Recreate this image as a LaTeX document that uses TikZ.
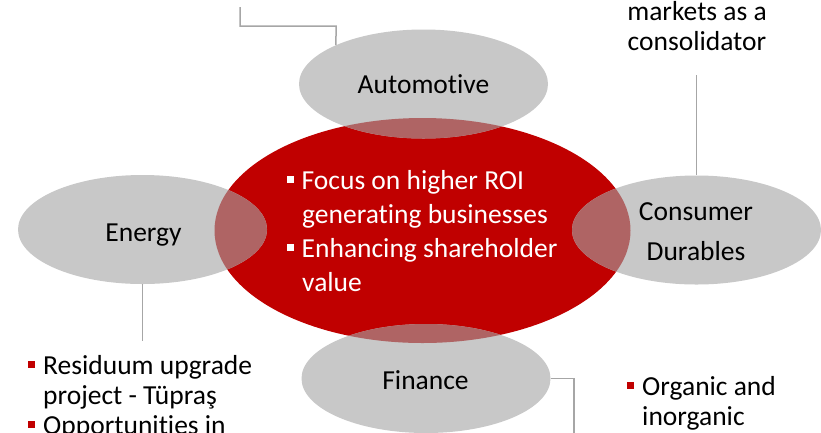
\documentclass[tikz,border=0pt]{standalone}
\usepackage{fontspec}
\setmainfont{Carlito}[RawFeature={-liga}]
\usetikzlibrary{shapes.geometric}
\definecolor{corered}{HTML}{C00000}
\definecolor{petal}{HTML}{C8C8C8}
\definecolor{overlap}{HTML}{AF6464}
\definecolor{connline}{HTML}{A6A6A6}
\newcommand{\sqbul}[1]{\makebox[15pt][l]{\textcolor{#1}{\rule[6.5pt]{7pt}{7pt}}}}
\tikzset{
  petalshape/.style={ellipse, fill=petal, minimum width=249pt, minimum height=109pt, inner sep=0pt},
  coreshape/.style={ellipse, fill=corered, minimum width=416pt, minimum height=225pt, inner sep=0pt},
  conn/.style={draw=connline, line width=1.5pt},
  lab/.style={inner sep=0pt, font=\fontsize{27.5}{33}\selectfont, text=black},
  wlab/.style={lab, text=white},
}
\begin{document}
\begin{tikzpicture}[x=1pt,y=-1pt]
\useasboundingbox (0,0) rectangle (821,432);
\clip (0,0) rectangle (821,432);
\fill[white] (0,0) rectangle (821,432);
% shapes
\node[coreshape] (core) at (422.5,230.5) {};
\node[petalshape] (auto) at (423.5,84) {};
\node[petalshape] (energy) at (142.5,229.5) {};
\node[petalshape] (cons) at (696.5,230) {};
\node[petalshape] (fin) at (426,378.5) {};
\begin{scope}
  \clip (422.5,230.5) ellipse [x radius=208pt, y radius=112.5pt];
  \fill[overlap] (423.5,84) ellipse [x radius=124.5pt, y radius=54.5pt];
  \fill[overlap] (142.5,229.5) ellipse [x radius=124.5pt, y radius=54.5pt];
  \fill[overlap] (696.5,230) ellipse [x radius=124.5pt, y radius=54.5pt];
  \fill[overlap] (426,378.5) ellipse [x radius=124.5pt, y radius=54.5pt];
\end{scope}
% labels in ellipses
\node[lab, anchor=base] (autoL) at (423.5,93) {Automotive};
\node[lab, anchor=base] (energyL) at (143.5,241) {Energy};
\node[lab, anchor=base] (consL1) at (696,220) {Consumer};
\node[lab, anchor=base] (consL2) at (696,260) {Durables};
\node[lab, anchor=base] (finL) at (425.5,389) {Finance};
% central text
\node[wlab, anchor=base west] (c1) at (286.5,189) {\sqbul{white}Focus on higher ROI};
\node[wlab, anchor=base west] (c2) at (302,223) {generating businesses};
\node[wlab, anchor=base west] (c3) at (286.5,257) {\sqbul{white}Enhancing shareholder};
\node[wlab, anchor=base west] (c4) at (302,291) {value};
% outer texts
\node[lab, anchor=base] (m1) at (697,20) {markets as a};
\node[lab, anchor=base] (m2) at (697,50) {consolidator};
\node[lab, anchor=base west] (e1) at (28,374) {\sqbul{corered}Residuum upgrade};
\node[lab, anchor=base west] (e2) at (43,404) {project - Tüpraş};
\node[lab, anchor=base west] (e3) at (28,434) {\sqbul{corered}Opportunities in};
\node[lab, anchor=base west] (f1) at (627,395) {\sqbul{corered}Organic and};
\node[lab, anchor=base west] (f2) at (642,425) {inorganic};
% connectors
\coordinate (ta) at (240,7);
\coordinate (tb) at (336,26);
\draw[conn] (ta) |- (tb) -- (auto.156);
\coordinate (ct) at (696.5,75);
\draw[conn] (ct) -- (cons.north);
\coordinate (eb) at (142.5,341);
\draw[conn] (energy.south) -- (eb);
\coordinate (fb) at (574,440);
\draw[conn] (fin.east) -| (fb);
\end{tikzpicture}
\end{document}
